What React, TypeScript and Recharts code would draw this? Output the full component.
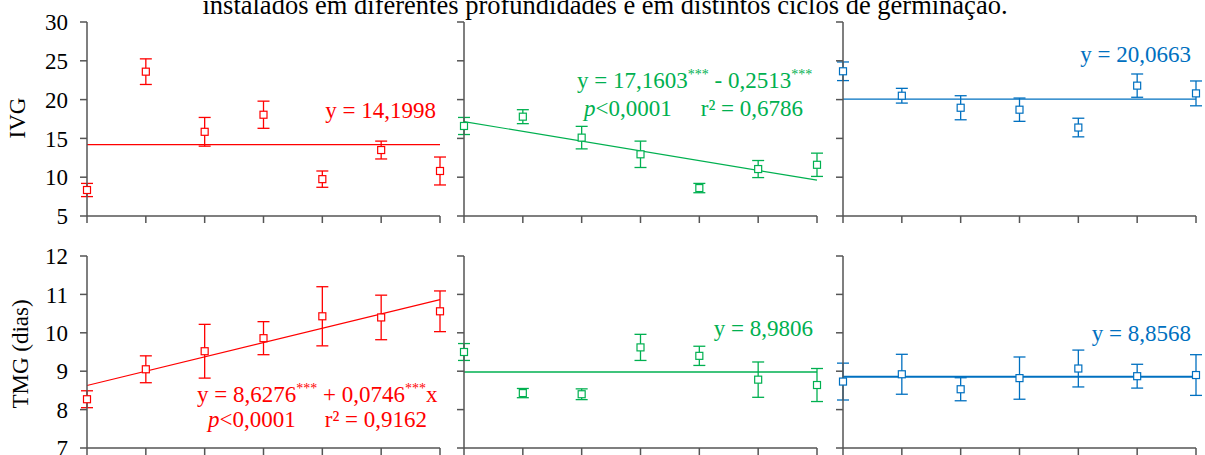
import { ScatterChart, Scatter, XAxis, YAxis, ErrorBar, ReferenceLine } from "recharts";

// dias após instalação (eixo x, sem rótulos visíveis no recorte)
const dias = [0, 5, 10, 15, 20, 25, 30];
const ticksX = [0, 5, 10, 15, 20, 25, 30];
const ticksIVG = [5, 10, 15, 20, 25, 30];
const ticksTMG = [7, 8, 9, 10, 11, 12];

// IVG
const ivgVermelho = [8.35, 23.6, 15.85, 18.05, 9.75, 13.5, 10.8];
const ivgVermelhoErro = [0.85, 1.65, 1.85, 1.75, 1.05, 1.15, 1.8];
const ivgVerde = [16.6, 17.8, 15.1, 12.95, 8.6, 11.05, 11.6];
const ivgVerdeErro = [1.1, 0.9, 1.45, 1.7, 0.6, 1.1, 1.5];
const ivgAzul = [23.65, 20.5, 18.95, 18.7, 16.4, 21.8, 20.8];
const ivgAzulErro = [1.2, 0.95, 1.55, 1.5, 1.2, 1.5, 1.6];

// TMG (dias)
const tmgVermelho = [8.27, 9.05, 9.52, 9.86, 10.43, 10.4, 10.56];
const tmgVermelhoErro = [0.22, 0.35, 0.7, 0.43, 0.77, 0.58, 0.53];
const tmgVerde = [9.5, 8.43, 8.4, 9.62, 9.4, 8.78, 8.64];
const tmgVerdeErro = [0.22, 0.12, 0.14, 0.34, 0.25, 0.46, 0.43];
const tmgAzul = [8.73, 8.92, 8.53, 8.82, 9.07, 8.87, 8.9];
const tmgAzulErro = [0.48, 0.52, 0.3, 0.55, 0.48, 0.31, 0.53];

// retas ajustadas (valores em x = 0 e x = 30)
const ivgVermelhoReta = [14.1998, 14.1998];
const ivgVerdeReta = [17.1603, 9.6213];
const ivgAzulReta = [20.0663, 20.0663];
const tmgVermelhoReta = [8.6276, 10.8656];
const tmgVerdeReta = [8.9806, 8.9806];
const tmgAzulReta = [8.8568, 8.8568];

const VERMELHO = "#FF0000";
const VERDE = "#00B050";
const AZUL = "#0070C0";
const EIXO = "#555555";
const FONTE = "'Liberation Serif', 'Times New Roman', serif";

// tick sem texto: mantém só o traço do eixo
const semTexto = () => <g />;

interface PainelProps {
  left: number;
  top: number;
  height: number;
  marginTop: number;
  xAxisHeight: number;
  valores: number[];
  erros: number[];
  reta: number[];
  cor: string;
  dominio: [number, number];
  ticks: number[];
  rotulos: boolean;
  espessura?: number;
}

function Painel({
  left, top, height, marginTop, xAxisHeight, valores, erros, reta, cor,
  dominio, ticks, rotulos, espessura = 1.2,
}: PainelProps) {
  const dados = dias.map((x, i) => ({ x, y: valores[i], err: erros[i] }));

  const quadrado = (props: any) => (
    <rect
      x={props.cx - 3.5}
      y={props.cy - 3.5}
      width={7}
      height={7}
      fill="#fff"
      stroke={cor}
      strokeWidth={1.2}
    />
  );

  return (
    <div style={{ position: "absolute", left, top }}>
      <ScatterChart
        width={449}
        height={height}
        margin={{ top: marginTop, right: 9, bottom: 0, left: 27 }}
      >
        <XAxis
          type="number"
          dataKey="x"
          domain={[0, 30]}
          ticks={ticksX}
          interval={0}
          tick={semTexto}
          tickSize={7}
          height={xAxisHeight}
          axisLine={{ stroke: EIXO, strokeWidth: 1.5 }}
          tickLine={{ stroke: EIXO, strokeWidth: 1.5 }}
        />
        <YAxis
          type="number"
          dataKey="y"
          domain={dominio}
          ticks={ticks}
          interval={0}
          width={60}
          tickSize={7}
          tickMargin={12}
          tick={rotulos ? { fill: "#000", fontSize: 23, fontFamily: FONTE } : semTexto}
          axisLine={{ stroke: EIXO, strokeWidth: 1.5 }}
          tickLine={{ stroke: EIXO, strokeWidth: 1.5 }}
        />
        <ReferenceLine
          segment={[{ x: 0, y: reta[0] }, { x: 30, y: reta[1] }]}
          stroke={cor}
          strokeWidth={espessura}
        />
        <Scatter data={dados} dataKey="y" shape={quadrado} isAnimationActive={false}>
          <ErrorBar dataKey="err" direction="y" width={6} stroke={cor} strokeWidth={1.3} />
        </Scatter>
      </ScatterChart>
    </div>
  );
}

const sup = (t: string) => (
  <tspan fontSize={14} dy={-9}>{t}</tspan>
);

function Textos() {
  const base = { fontFamily: FONTE, fontSize: 23 };
  return (
    <svg
      width={1205}
      height={455}
      style={{ position: "absolute", left: 0, top: 0, pointerEvents: "none" }}
    >
      <text x={605} y={14} textAnchor="middle" fill="#000" fontFamily={FONTE} fontSize={26.5}>
        instalados em diferentes profundidades e em distintos ciclos de germinação.
      </text>
      <text x={25} y={118} transform="rotate(-90, 25, 118)" textAnchor="middle" fill="#000" {...base}>
        IVG
      </text>
      <text x={28} y={354} transform="rotate(-90, 28, 354)" textAnchor="middle" fill="#000" {...base}>
        TMG (dias)
      </text>

      <text x={436} y={118} textAnchor="end" fill={VERMELHO} {...base}>y = 14,1998</text>

      <text x={577} y={88} fill={VERDE} {...base}>
        y = 17,1603{sup("***")}<tspan dy={9}> - 0,2513</tspan>{sup("***")}
      </text>
      <text x={584} y={116} fill={VERDE} {...base}>
        <tspan fontStyle="italic">p</tspan>&lt;0,0001
      </text>
      <text x={803} y={116} textAnchor="end" fill={VERDE} {...base}>r² = 0,6786</text>

      <text x={1191} y={62} textAnchor="end" fill={AZUL} {...base}>y = 20,0663</text>

      <text x={197} y={402} fill={VERMELHO} {...base}>
        y = 8,6276{sup("***")}<tspan dy={9}> + 0,0746</tspan>{sup("***")}<tspan dy={9}>x</tspan>
      </text>
      <text x={208} y={427} fill={VERMELHO} {...base}>
        <tspan fontStyle="italic">p</tspan>&lt;0,0001
      </text>
      <text x={427} y={427} textAnchor="end" fill={VERMELHO} {...base}>r² = 0,9162</text>

      <text x={813} y={336} textAnchor="end" fill={VERDE} {...base}>y = 8,9806</text>

      <text x={1191} y={341} textAnchor="end" fill={AZUL} {...base}>y = 8,8568</text>
    </svg>
  );
}

export default function App() {
  const topo = { top: 0, height: 230, marginTop: 22, xAxisHeight: 14, dominio: [5, 30] as [number, number], ticks: ticksIVG };
  const baixo = { top: 230, height: 225, marginTop: 26, xAxisHeight: 7, dominio: [7, 12] as [number, number], ticks: ticksTMG };

  return (
    <div
      style={{
        position: "absolute",
        left: 0,
        top: 0,
        width: 1205,
        height: 455,
        background: "#fff",
        overflow: "hidden",
      }}
    >
      <Painel left={0} {...topo} valores={ivgVermelho} erros={ivgVermelhoErro} reta={ivgVermelhoReta} cor={VERMELHO} rotulos />
      <Painel left={377} {...topo} valores={ivgVerde} erros={ivgVerdeErro} reta={ivgVerdeReta} cor={VERDE} rotulos={false} />
      <Painel left={756} {...topo} valores={ivgAzul} erros={ivgAzulErro} reta={ivgAzulReta} cor={AZUL} rotulos={false} />

      <Painel left={0} {...baixo} valores={tmgVermelho} erros={tmgVermelhoErro} reta={tmgVermelhoReta} cor={VERMELHO} rotulos />
      <Painel left={377} {...baixo} valores={tmgVerde} erros={tmgVerdeErro} reta={tmgVerdeReta} cor={VERDE} rotulos={false} espessura={1.5} />
      <Painel left={756} {...baixo} valores={tmgAzul} erros={tmgAzulErro} reta={tmgAzulReta} cor={AZUL} rotulos={false} espessura={2} />

      <Textos />
    </div>
  );
}
